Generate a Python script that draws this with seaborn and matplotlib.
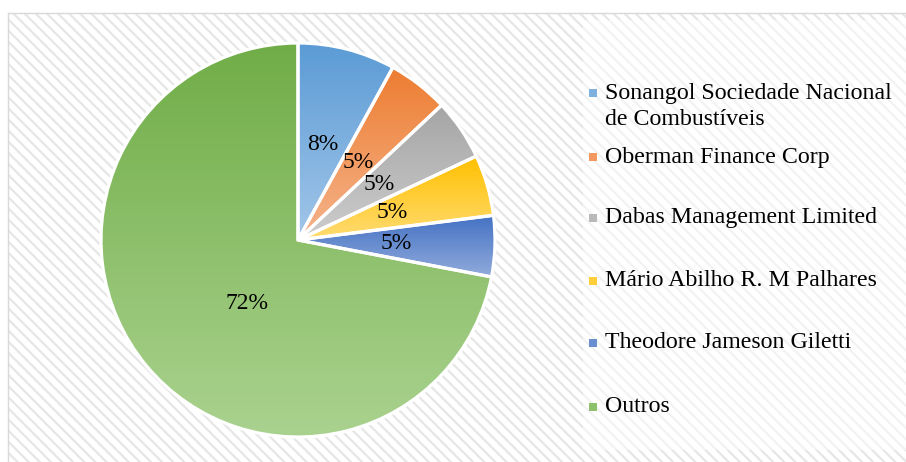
import numpy as np
import matplotlib
matplotlib.use("Agg")
import matplotlib.pyplot as plt
from matplotlib.colors import to_rgb
from matplotlib.patches import Rectangle
import seaborn as sns

labels = ["Sonangol Sociedade Nacional\nde Combustíveis", "Oberman Finance Corp",
          "Dabas Management Limited", "Mário Abilho R. M Palhares",
          "Theodore Jameson Giletti", "Outros"]
shares = [8, 5, 5, 5, 5, 72]
top_colors = ["#5B9BD5", "#ED7D31", "#A5A5A5", "#FFC000", "#4472C4", "#70AD47"]
bottom_colors = ["#A2C6E9", "#F5B48C", "#CDCDCD", "#FFDC73", "#91ABDC", "#AAD28F"]

sns.set_theme(style="white")
plt.rcParams['font.family'] = ['Liberation Serif', 'DejaVu Serif']
plt.rcParams['hatch.linewidth'] = 1.6
plt.rcParams['hatch.color'] = '#e6e6e6'

W, H = 906, 462
fig = plt.figure(figsize=(W / 100, H / 100), dpi=100)

# hatched chart area background
bg = fig.add_axes([8 / W, 0, 1 - 8 / W, 1 - 13 / H])
bg.add_patch(Rectangle((0, 0), 1, 1, transform=bg.transAxes, facecolor='white',
                       edgecolor='#e6e6e6', hatch='\\\\\\', linewidth=0))
bg.set_xticks([]); bg.set_yticks([])
for s in ['right', 'bottom']:
    bg.spines[s].set_visible(False)
for s in ['left', 'top']:
    bg.spines[s].set_color('#d9d9d9')
    bg.spines[s].set_linewidth(1)

# lighter legend area
fig.patches.append(Rectangle((583 / W, 1 - 450 / H), 1 - 583 / W, 430 / H,
                             transform=fig.transFigure, facecolor='white',
                             alpha=0.5, linewidth=0, zorder=1))

# pie
cx, cy, r = 298, 240, 197
pad = 1.05
ax = fig.add_axes([(cx - r * pad) / W, 1 - (cy + r * pad) / H, 2 * r * pad / W, 2 * r * pad / H])
ax.set_facecolor('none')
wedges, texts, autotexts = ax.pie(shares, startangle=90, counterclock=False, radius=1,
                                  autopct='%1.0f%%', pctdistance=0.5,
                                  wedgeprops=dict(edgecolor='white', linewidth=2.3),
                                  textprops=dict(fontsize=17, color='black'))
for w, c0, c1 in zip(wedges, top_colors, bottom_colors):
    ext = w.get_path().get_extents()
    t = np.linspace(0, 1, 256)[:, None, None]
    grad = (1 - t) * np.array(to_rgb(c0)) + t * np.array(to_rgb(c1))
    im = ax.imshow(grad, extent=(ext.x0, ext.x1, ext.y0, ext.y1), origin='upper',
                   aspect='auto', zorder=0.5)
    im.set_clip_path(w)
    w.set_facecolor('none')
autotexts[-1].set_position((-0.26, -0.32))
ax.set_xlim(-pad, pad)
ax.set_ylim(-pad, pad)
ax.axis('off')

# legend
leg_y = [93, 157, 218, 281, 343, 407]
for lab, y, c0, c1 in zip(labels, leg_y, top_colors, bottom_colors):
    mid = (np.array(to_rgb(c0)) + np.array(to_rgb(c1))) / 2
    fig.patches.append(Rectangle((589 / W, 1 - (y + 4) / H), 8 / W, 8 / H,
                                 transform=fig.transFigure, facecolor=mid,
                                 linewidth=0, zorder=3))
    nlines = lab.count('\n') + 1
    yc = y + (nlines - 1) * 13.5
    fig.text(605 / W, 1 - yc / H, lab, fontsize=17.2, va='center', ha='left',
             color='black', linespacing=1.32, zorder=3)

fig.savefig("out.png", dpi=100)
